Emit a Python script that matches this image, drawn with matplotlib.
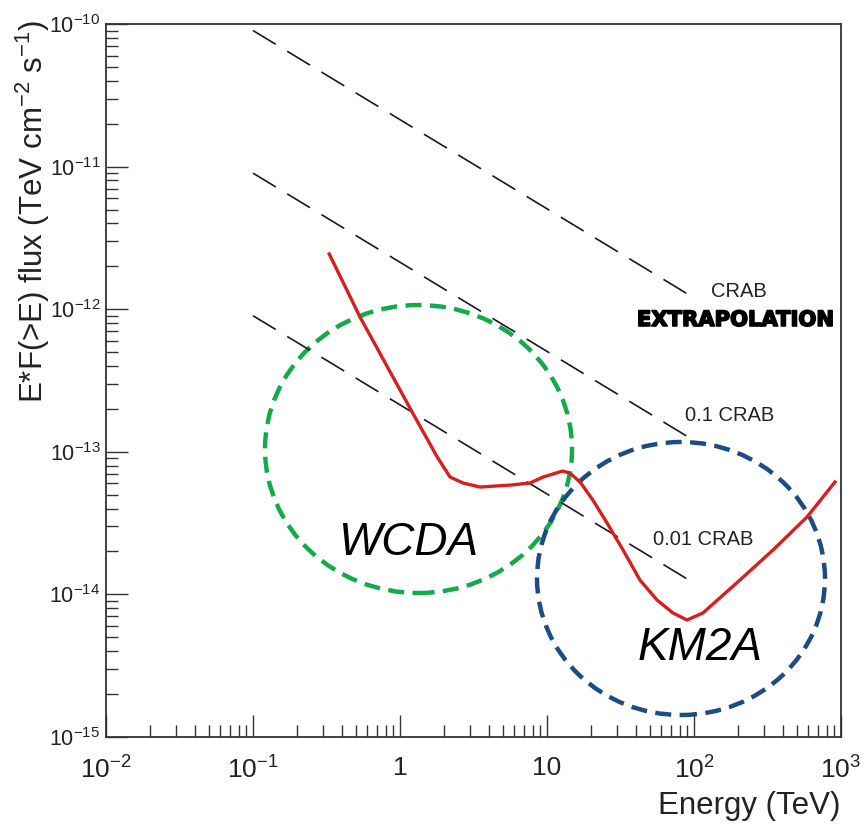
import numpy as np
import matplotlib
matplotlib.use("Agg")
import matplotlib.pyplot as plt
from matplotlib.patches import Ellipse
from matplotlib.ticker import FixedLocator, LogLocator, NullFormatter
import matplotlib.patheffects as pe

# ---------------- data ----------------
# Sensitivity curve (red): energy (TeV) and E*F(>E) (TeV cm^-2 s^-1)
sens_energy = [0.33, 0.535, 1.22, 1.79, 2.19, 2.69, 3.50, 5.60, 7.66, 9.39,
               12.8, 14.3, 16.8, 20.5, 25.6, 32.9, 42.9, 56.0, 71.9, 89.6,
               115, 205, 345, 587, 910]
sens_flux = [2.44e-12, 8.8e-13, 1.87e-13, 9.2e-14, 6.65e-14, 6.04e-14, 5.66e-14,
             5.84e-14, 6.04e-14, 6.65e-14, 7.33e-14, 7.09e-14, 6.14e-14, 4.59e-14,
             3.17e-14, 2.05e-14, 1.26e-14, 9.14e-15, 7.41e-15, 6.61e-15,
             7.41e-15, 1.26e-14, 2.05e-14, 3.49e-14, 6.14e-14]

# Crab extrapolation (end points) and fractions
crab_energy = [0.1, 100]
crab_flux = [9.0e-11, 1.2e-12]
crab_fractions = [1.0, 0.1, 0.01]

x_ticks = [1e-2, 1e-1, 1, 10, 1e2, 1e3]
x_ticklabels = ['$10^{-2}$', '$10^{-1}$', '1', '10', '$10^{2}$', '$10^{3}$']
y_ticks = [1e-15, 1e-14, 1e-13, 1e-12, 1e-11, 1e-10]
y_ticklabels = ['$10^{-15}$', '$10^{-14}$', '$10^{-13}$', '$10^{-12}$',
                '$10^{-11}$', '$10^{-10}$']

# ---------------- style ----------------
plt.rcParams['font.family'] = ['Liberation Sans', 'DejaVu Sans']
plt.rcParams['mathtext.fontset'] = 'custom'
plt.rcParams['mathtext.rm'] = 'Liberation Sans'
plt.rcParams['mathtext.it'] = 'Liberation Sans:italic'
plt.rcParams['mathtext.bf'] = 'Liberation Sans:bold'
plt.rcParams['mathtext.default'] = 'regular'

fig = plt.figure(figsize=(8.65, 8.30), dpi=100)
ax = fig.add_axes([106/865, 1-737/830, 735/865, 713/830])

ax.set_xscale('log')
ax.set_yscale('log')
ax.set_xlim(1e-2, 1e3)
ax.set_ylim(1e-15, 1e-10)

# Crab lines
for frac in crab_fractions:
    ax.plot(crab_energy, [f*frac for f in crab_flux], color='#1a1a1a', lw=1.2,
            dashes=(16, 8), solid_capstyle='butt', dash_capstyle='butt')

# Sensitivity curve
ax.plot(sens_energy, sens_flux, color='#d81e1e', lw=2.4, solid_joinstyle='round')

# Circles (axes fraction)
ax.add_patch(Ellipse((0.4252, 0.4039), 0.4177, 0.4039, transform=ax.transAxes,
                     fill=False, edgecolor='#12ab4c', lw=3.2, linestyle=(0, (3.6, 1.9))))
ax.add_patch(Ellipse((0.7823, 0.2223), 0.3918, 0.3829, transform=ax.transAxes,
                     fill=False, edgecolor='#1d4b84', lw=3.2, linestyle=(0, (3.6, 1.9))))

# Text annotations
ax.text(0.8612, 0.6255, 'CRAB', transform=ax.transAxes, ha='center', va='center',
        fontsize=14.5, color='#222222')
ax.text(0.8571, 0.5849, 'EXTRAPOLATION', transform=ax.transAxes, ha='center', va='center',
        fontsize=15.2, fontweight='bold', family='DejaVu Sans', color='black',
        path_effects=[pe.withStroke(linewidth=1.2, foreground='black')])
ax.text(0.8490, 0.4509, '0.1 CRAB', transform=ax.transAxes, ha='center', va='center',
        fontsize=14.5, color='#222222')
ax.text(0.8129, 0.2763, '0.01 CRAB', transform=ax.transAxes, ha='center', va='center',
        fontsize=14.5, color='#222222')
ax.text(0.4109, 0.2721, 'WCDA', transform=ax.transAxes, ha='center', va='center',
        fontsize=33, style='italic', color='black')
ax.text(0.8082, 0.1248, 'KM2A', transform=ax.transAxes, ha='center', va='center',
        fontsize=33, style='italic', color='black')

# Ticks
ax.xaxis.set_major_locator(FixedLocator(x_ticks))
ax.set_xticklabels(x_ticklabels)
ax.yaxis.set_major_locator(FixedLocator(y_ticks))
ax.set_yticklabels(y_ticklabels)
ax.xaxis.set_minor_locator(LogLocator(base=10, subs=np.arange(2, 10), numticks=20))
ax.yaxis.set_minor_locator(LogLocator(base=10, subs=np.arange(2, 10), numticks=20))
ax.xaxis.set_minor_formatter(NullFormatter())
ax.yaxis.set_minor_formatter(NullFormatter())

ax.tick_params(which='both', direction='in', top=False, right=False, color='#333333')
ax.tick_params(which='major', length=16, width=1.0)
ax.tick_params(which='minor', length=8.5, width=1.0)
ax.tick_params(axis='x', which='major', labelsize=19, pad=14, labelcolor='#222222')
ax.tick_params(axis='y', which='major', labelsize=15.5, pad=4, labelcolor='#222222')

for s in ax.spines.values():
    s.set_color('#333333')
    s.set_linewidth(1.3)

ax.set_xlabel('Energy (TeV)', fontsize=22.5, loc='right', color='#222222')
ax.xaxis.set_label_coords(1.0, -0.076)
ax.set_ylabel('E*F(>E) flux (TeV cm$^{-2}$ s$^{-1}$)', fontsize=22.5, loc='top',
              color='#222222')
ax.yaxis.set_label_coords(-0.073, 1.005)

fig.savefig('out.png', dpi=100, facecolor='white')
